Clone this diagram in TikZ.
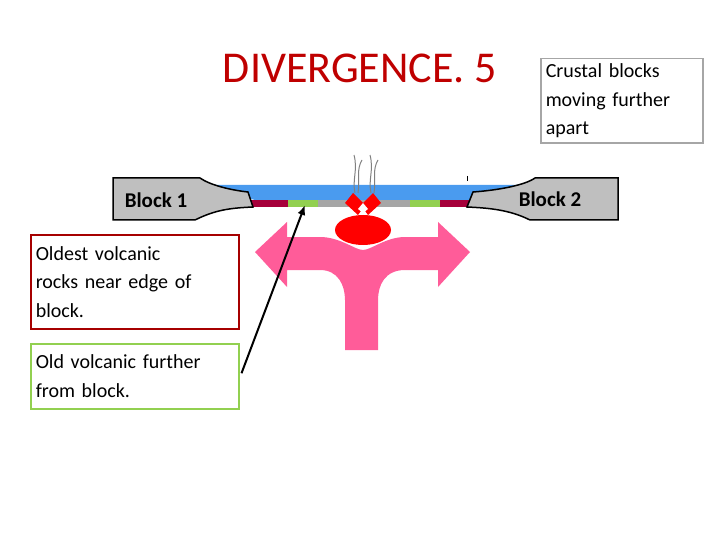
\documentclass[tikz,border=0pt]{standalone}
\usepackage{fontspec}
\setmainfont{Carlito}
\usetikzlibrary{arrows.meta}
\begin{document}
\begin{tikzpicture}[x=1pt,y=-1pt,
 box/.style={draw,line width=1.5pt,align=left,anchor=north west,inner sep=5pt,font=\fontsize{20}{28.5}\selectfont,text width=#1},
 lbl/.style={font=\bfseries\fontsize{21}{24}\selectfont}]
\useasboundingbox (0,0) rectangle (720,540);
\definecolor{pk}{HTML}{FF5C99}\definecolor{dr}{HTML}{A6003A}\definecolor{gr}{HTML}{92D050}\definecolor{bl}{HTML}{4A9BEF}
% pink arrow
\fill[pk] (255,252) -- (287,222) -- (287,237) -- (320,237) .. controls (340,237) and (355,250) .. (363,250) .. controls (371,250) and (386,237) .. (405,237) -- (438,237) -- (438,222) -- (470,252) -- (438,287) -- (438,270) -- (405,270) .. controls (385,270) and (378,285) .. (378,300) -- (378,350) -- (345,350) -- (345,300) .. controls (345,285) and (338,270) .. (320,270) -- (287,270) -- (287,287) -- cycle;
% water and bands
\fill[bl] (200,185) -- (525,185) -- (470,200) -- (255,200) -- cycle;
\fill[dr] (250,200) rectangle (475,207);
\fill[gr] (288,200) rectangle (318,207);
\fill[gr] (410,200) rectangle (440,207);
\fill[gray!70] (318,200) rectangle (410,207);
% blocks
\draw[line width=1.5pt,fill=gray!50] (113,178) -- (200,178) .. controls (210,185) and (230,190) .. (248,192) -- (253,207) .. controls (230,208) and (215,210) .. (195,220) -- (113,220) -- cycle;
\draw[line width=1.5pt,fill=gray!50] (618,178) -- (535,178) .. controls (525,185) and (500,190) .. (473,192) -- (467,207) .. controls (490,208) and (510,210) .. (530,220) -- (618,220) -- cycle;
\node[lbl] (b1) at (156,200) {Block 1};
\node[lbl] (b2) at (550,199) {Block 2};
% magma
\fill[red] (363,230) ellipse (28 and 15);
\fill[red] (345,203) -- (353,193) -- (363,203) -- (373,193) -- (381,203) -- (368,215) -- (363,208) -- (358,215) -- cycle;
\fill[white] (363,203) -- (368,209) -- (363,213) -- (358,209) -- cycle;
\draw[gray,line width=1pt] (355,193) .. controls (352,180) and (358,170) .. (354,155);
\draw[gray,line width=1pt] (358,193) .. controls (360,180) and (356,170) .. (362,160);
\draw[gray,line width=1pt] (371,193) .. controls (368,180) and (374,170) .. (370,155);
\draw[gray,line width=1pt] (374,193) .. controls (376,180) and (372,170) .. (378,160);
\draw (467,176) -- (467,181);
% texts
\node[font=\fontsize{44}{48}\selectfont,text=red!75!black] (t) at (360,68) {DIVERGENCE. 5};
\node[box=152pt,draw=gray!70,inner sep=5pt] (c) at (540,58) {Crustal blocks\\moving further\\apart};
\node[box=198pt,draw=red!65!black,minimum height=94pt] (o) at (30,234) {Oldest volcanic\\rocks near edge of\\block.};
\node[box=198pt,draw=gr,minimum height=65pt] (g) at (30,343) {Old volcanic further\\from block.};
\coordinate (tip) at (305,205);
\draw[line width=2pt,-{Latex[length=10pt,width=8pt]}] (g.east) ++(2,-3) -- (tip);
\end{tikzpicture}
\end{document}
